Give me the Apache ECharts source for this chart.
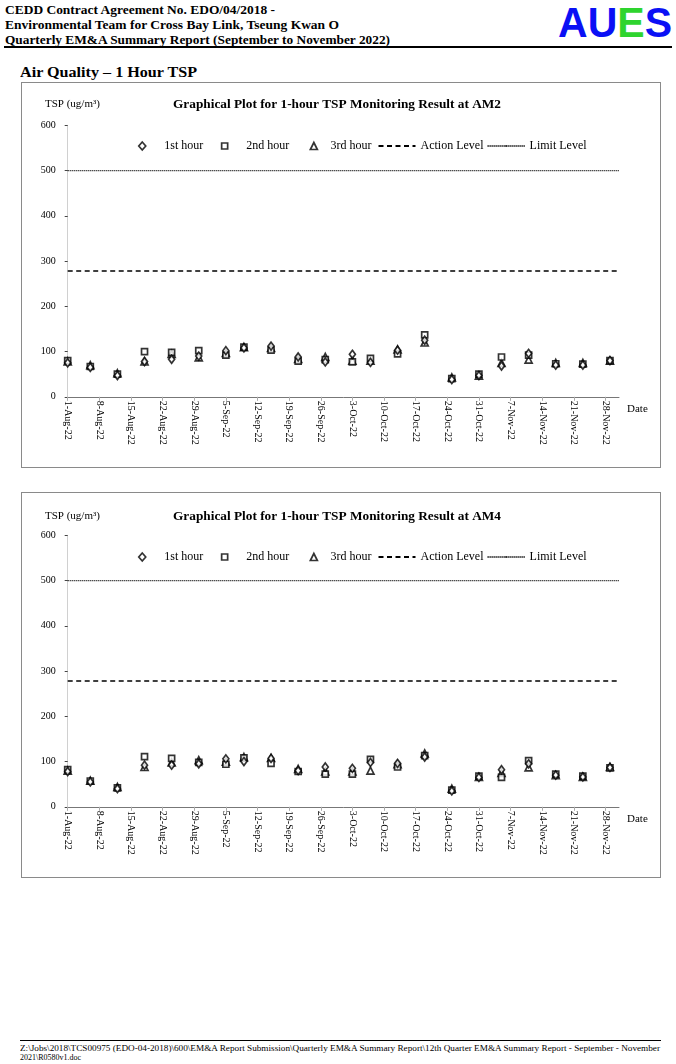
<!DOCTYPE html>
<html>
<head>
<meta charset="utf-8">
<script src="https://cdn.jsdelivr.net/npm/echarts@6/dist/echarts.min.js"></script>
<style>
  html, body { margin: 0; padding: 0; background: #fff; }
  body { width: 676px; height: 1064px; position: relative; overflow: hidden;
         font-family: "Liberation Serif", "Times New Roman", serif; color: #000; }
  .fit { position: absolute; white-space: nowrap; transform-origin: 0 0; line-height: 1; }
  .hdr { font-weight: bold; font-size: 13px; left: 5px; }
  #logo { font-family: "Liberation Sans", Arial, sans-serif; font-weight: bold; font-size: 42px;
          left: 558px; top: 2px; letter-spacing: 0; }
  .rule { position: absolute; background: #000; }
  .frame { position: absolute; left: 21px; width: 640px; height: 386px; box-sizing: border-box;
           border: 1px solid #8a8a8a; }
  .chart { position: absolute; left: 21px; width: 640px; height: 386px; }
  .foot { font-size: 8px; left: 20px; }
</style>
</head>
<body>
<div class="fit hdr" id="h1" data-w="270" style="top:3px">CEDD Contract Agreement No. EDO/04/2018 -</div>
<div class="fit hdr" id="h2" data-w="334" style="top:18px">Environmental Team for Cross Bay Link, Tseung Kwan O</div>
<div class="fit hdr" id="h3" data-w="385" style="top:33px">Quarterly EM&amp;A Summary Report (September to November 2022)</div>
<div class="fit" id="logo" data-w="114"><span style="color:#0a10f5">AU</span><span style="color:#2ed42e">E</span><span style="color:#0a10f5">S</span></div>
<div class="rule" style="left:4px; top:46px; width:668px; height:2px;"></div>
<div class="fit" id="aq" data-w="177" style="left:20px; top:66px; font-weight:bold; font-size:14px;">Air Quality – 1 Hour TSP</div>

<div class="frame" style="top:82px"></div>
<div class="chart" id="c1" style="top:82px"></div>
<div class="frame" style="top:492px"></div>
<div class="chart" id="c2" style="top:492px"></div>

<div class="rule" style="left:20px; top:1040px; width:641px; height:1px;"></div>
<div class="fit foot" data-w="640" style="top:1045px">Z:\Jobs\2018\TCS00975 (EDO-04-2018)\600\EM&amp;A Report Submission\Quarterly EM&amp;A Summary Report\12th Quarter EM&amp;A Summary Report - September - November</div>
<div class="fit foot" style="top:1054px">2021\R0580v1.doc</div>

<script>
// ---------------- DATA ----------------
var sampleDates = ['1-Aug-22','6-Aug-22','12-Aug-22','18-Aug-22','24-Aug-22','30-Aug-22',
  '5-Sep-22','9-Sep-22','15-Sep-22','21-Sep-22','27-Sep-22','3-Oct-22','7-Oct-22','13-Oct-22',
  '19-Oct-22','25-Oct-22','31-Oct-22','5-Nov-22','11-Nov-22','17-Nov-22','23-Nov-22','29-Nov-22'];

var tickLabels = ['1-Aug-22','8-Aug-22','15-Aug-22','22-Aug-22','29-Aug-22','5-Sep-22',
  '12-Sep-22','19-Sep-22','26-Sep-22','3-Oct-22','10-Oct-22','17-Oct-22','24-Oct-22',
  '31-Oct-22','7-Nov-22','14-Nov-22','21-Nov-22','28-Nov-22'];
var axisStart = '1-Aug-22';
var axisEnd = '1-Dec-22';

var am2_1st = [75,65,47,78,83,90,102,108,112,88,77,94,76,103,125,38,47,68,96,70,70,80];
var am2_2nd = [80,67,50,100,98,102,92,110,103,79,82,77,85,95,137,40,50,88,92,73,72,80];
var am2_3rd = [78,70,52,78,95,87,97,110,108,84,88,80,80,105,120,43,47,75,82,75,75,80];

var am4_1st = [78,55,40,92,92,95,106,100,107,80,88,85,98,96,110,35,65,82,95,70,66,87];
var am4_2nd = [82,57,42,111,107,98,94,108,96,78,72,72,105,88,113,37,68,65,102,72,68,86];
var am4_3rd = [80,58,44,88,98,103,100,110,108,84,78,78,80,94,118,40,66,75,87,70,66,88];

var actionLevel = 278;
var limitLevel = 500;
var yTicks = [0, 600, 100];

// ---------------- HELPERS ----------------
var MON = {Jan:0,Feb:1,Mar:2,Apr:3,May:4,Jun:5,Jul:6,Aug:7,Sep:8,Oct:9,Nov:10,Dec:11};
function toUTC(s){ var p = s.split('-'); return Date.UTC(2000 + (+p[2]), MON[p[1]], +p[0]); }
var t0 = toUTC(axisStart);
function dayIdx(s){ return Math.round((toUTC(s) - t0) / 86400000); }
var tickPos = tickLabels.map(dayIdx);
var xMax = dayIdx(axisEnd);
var labelByPos = {}; tickPos.forEach(function(p,i){ labelByPos[p] = tickLabels[i]; });
function pts(vals){ return sampleDates.map(function(d,i){ return [dayIdx(d), vals[i]]; }); }

var SERIF = '"Liberation Serif","Times New Roman",serif';
var markStyle = { color: '#fff', borderColor: '#000', borderWidth: 1.7 };

function legendItem(name, icon, left, top, w, h, padL){
  return {
    left: left, top: top, orient: 'horizontal', padding: 0,
    itemWidth: w, itemHeight: h, itemGap: 0,
    selectedMode: false, symbolKeepAspect: true,
    data: [icon ? { name: name, icon: icon } : { name: name }],
    textStyle: { fontFamily: SERIF, fontSize: 12, color: '#000', padding: [0, 0, 0, padL] },
    itemStyle: icon ? markStyle : undefined
  };
}

function makeOption(title, d1, d2, d3, titleY, legTop){
  return {
    animation: false,
    backgroundColor: 'transparent',
    grid: { left: 46.7, top: 43.3, width: 551.3, height: 271.5 },
    graphic: [
      { type: 'text', left: 24, top: titleY - 6,
        style: { text: 'TSP (ug/m³)', font: '11px ' + SERIF, fill: '#000' } },
      { type: 'text', x: 316, y: titleY, style: { text: title, font: 'bold 13.3px ' + SERIF,
        fill: '#000', align: 'center', verticalAlign: 'middle' } },
      { type: 'text', x: 606, y: 327, style: { text: 'Date', font: '11px ' + SERIF,
        fill: '#000', align: 'left', verticalAlign: 'middle' } }
    ],
    legend: [
      legendItem('1st hour', 'diamond', 116.9, legTop, 7, 8, 13.6),
      legendItem('2nd hour', 'rect', 199.8, legTop, 6, 6, 13.7),
      legendItem('3rd hour', 'triangle', 288.5, legTop, 7, 7, 8.1),
      legendItem('Action Level', null, 356.5, legTop, 37, 2, 0),
      legendItem('Limit Level', null, 465.6, legTop, 37, 2, 0)
    ],
    xAxis: {
      type: 'value', min: 0, max: xMax,
      splitLine: { show: false },
      axisLine: { show: true, onZero: false, lineStyle: { color: '#777', width: 1 } },
      axisTick: { show: true, customValues: tickPos, length: 4, lineStyle: { color: '#aaa' } },
      axisLabel: { show: true, customValues: tickPos, rotate: -90, margin: 4,
        fontFamily: SERIF, fontSize: 10, color: '#000',
        formatter: function(v){ return labelByPos[v] || ''; } }
    },
    yAxis: {
      type: 'value', min: yTicks[0], max: yTicks[1], interval: yTicks[2],
      splitLine: { show: false },
      axisLine: { show: true, lineStyle: { color: '#d0d0d0', width: 1 } },
      axisTick: { show: true, length: 3, lineStyle: { color: '#444' } },
      axisLabel: { fontFamily: SERIF, fontSize: 10, color: '#000', margin: 12 }
    },
    series: [
      { name: 'Action Level', type: 'line', symbol: 'none', silent: true,
        data: [[0, actionLevel], [xMax, actionLevel]],
        lineStyle: { color: '#000', width: 1.6, type: [5, 3.5] } },
      { name: 'Limit Level', type: 'line', symbol: 'none', silent: true,
        data: [[0, limitLevel], [xMax, limitLevel]],
        lineStyle: { color: '#000', width: 1.2, type: [1, 1] } },
      { name: '3rd hour', type: 'scatter', symbol: 'triangle', symbolSize: 7,
        data: pts(d3), itemStyle: markStyle },
      { name: '2nd hour', type: 'scatter', symbol: 'rect', symbolSize: 6,
        data: pts(d2), itemStyle: markStyle },
      { name: '1st hour', type: 'scatter', symbol: 'diamond', symbolSize: [6, 8],
        data: pts(d1), itemStyle: markStyle }
    ]
  };
}

// fit header texts to measured widths
document.querySelectorAll('.fit[data-w]').forEach(function(el){
  var w = el.getBoundingClientRect().width;
  var target = +el.getAttribute('data-w');
  if (w > 0) el.style.transform = 'scaleX(' + (target / w) + ')';
});

var c1 = echarts.init(document.getElementById('c1'), null, { renderer: 'canvas' });
c1.setOption(makeOption('Graphical Plot for 1-hour TSP Monitoring Result at AM2',
  am2_1st, am2_2nd, am2_3rd, 23, 58));
var c2 = echarts.init(document.getElementById('c2'), null, { renderer: 'canvas' });
c2.setOption(makeOption('Graphical Plot for 1-hour TSP Monitoring Result at AM4',
  am4_1st, am4_2nd, am4_3rd, 25, 59));
</script>
</body>
</html>
